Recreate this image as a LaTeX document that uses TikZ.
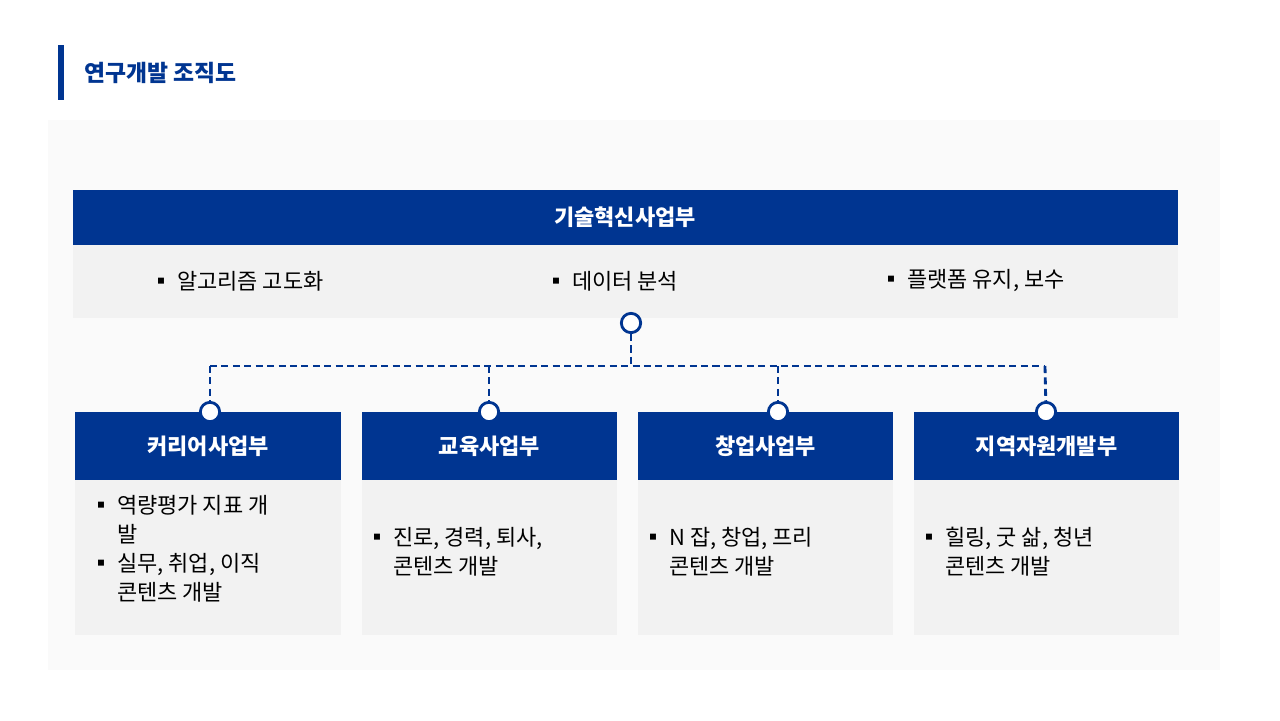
\documentclass[tikz,border=0pt]{standalone}
\usepackage{fontspec}
\setmainfont{Noto Sans CJK KR}
\usetikzlibrary{positioning}
\definecolor{navy}{HTML}{003591}
\definecolor{panel}{HTML}{F2F2F2}
\definecolor{backpanel}{HTML}{FAFAFA}
\tikzset{
  head/.style={fill=navy, text=white, font=\fontsize{12.5}{15}\selectfont\bfseries, inner sep=0pt},
  body/.style={fill=panel, inner sep=0pt},
  item/.style={anchor=north west, align=left, font=\fontsize{12.5}{16.5}\selectfont, inner sep=0pt},
  knob/.style={circle, draw=navy, line width=1.6pt, fill=white, minimum size=11pt, inner sep=0pt},
  link/.style={navy, line width=1.6pt, dash pattern=on 4pt off 2.5pt}
}
\newcommand{\hang}{\hphantom{▪ }}
\begin{document}
\begin{tikzpicture}[x=0.02cm, y=-0.02cm]
\useasboundingbox (0,0) rectangle (1280,720);
\fill[white] (0,0) rectangle (1280,720);
% Title
\fill[navy] (58,45) rectangle (64,100);
\node[anchor=west, text=navy, font=\fontsize{13}{15}\selectfont\bfseries, inner sep=0pt] (title) at (84,73) {연구개발 조직도};
\fill[backpanel] (48,120) rectangle (1220,670);
% Top unit
\fill[navy] (73,190) rectangle (1178,245);
\fill[panel] (73,245) rectangle (1178,318);
\node[head] (top) at (625,217) {기술혁신사업부};
\node[item, anchor=west] (t1) at (150,281) {▪ 알고리즘 고도화};
\node[item, anchor=west] (t2) at (545,281) {▪ 데이터 분석};
\node[item, anchor=west] (t3) at (880,281) {▪ 플랫폼 유지, 보수};
% Bottom units
\foreach \xa/\xb/\nm/\lbl in {75/341/a/커리어사업부, 362/617/b/교육사업부, 638/893/c/창업사업부, 914/1179/d/지역자원개발부}{
  \fill[navy] (\xa,412) rectangle (\xb,480);
  \fill[panel] (\xa,480) rectangle (\xb,635);
  \node[head] (h\nm) at ({(\xa+\xb)/2},446) {\lbl};
}
\node[item] (ia) at (90,495) {▪ 역량평가 지표 개\\\hang 발\\▪ 실무, 취업, 이직\\\hang 콘텐츠 개발};
\node[item] (ib) at (366,527) {▪ 진로, 경력, 퇴사,\\\hang 콘텐츠 개발};
\node[item] (ic) at (642,527) {▪ N 잡, 창업, 프리\\\hang 콘텐츠 개발};
\node[item] (id) at (918,527) {▪ 힐링, 굿 삶, 청년\\\hang 콘텐츠 개발};
% Connectors
\coordinate (hub) at (631,366);
\coordinate (left) at (210,366);
\coordinate (right) at (1045,366);
\node[knob] (k0) at (631,323) {};
\node[knob] (ka) at (210,412) {};
\node[knob] (kb) at (489,412) {};
\node[knob] (kc) at (778,412) {};
\node[knob] (kd) at (1046,412) {};
\draw[link] (k0) -- (hub);
\draw[link] (left) -- (right);
\draw[link] (left) -- (ka);
\draw[link] (489,366) -- (kb);
\draw[link] (778,366) -- (kc);
\draw[link] (right) -- (kd);
\end{tikzpicture}
\end{document}
